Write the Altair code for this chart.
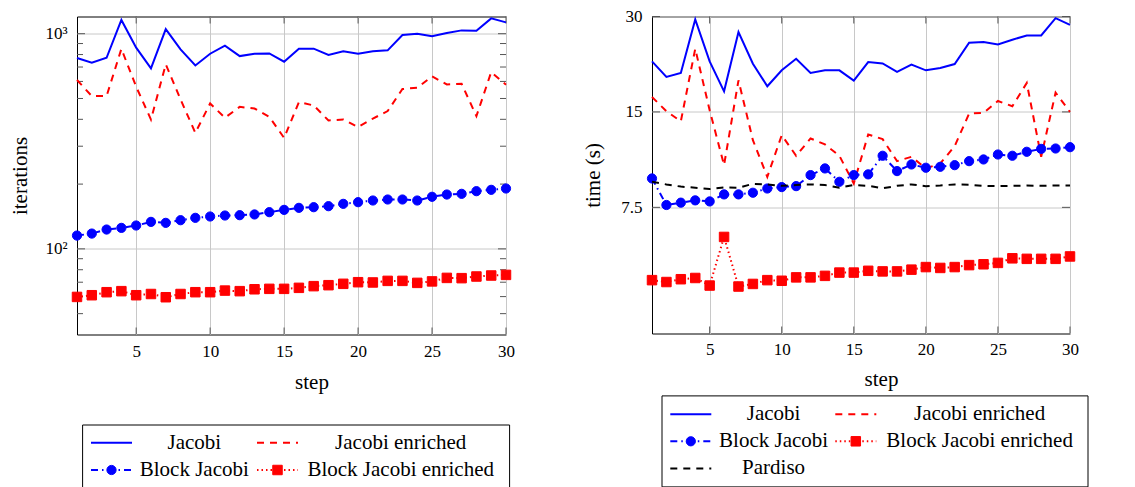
import altair as alt
import pandas as pd

steps = list(range(1, 31))

iter_jacobi = [771, 733, 773, 1158, 861, 690, 1051, 846, 712, 807, 880, 787, 807, 810, 741,
               852, 852, 796, 828, 807, 828, 837, 986, 1000, 972, 1007, 1036, 1033, 1178, 1129]
iter_jacobi_enr = [609, 513, 513, 850, 567, 399, 720, 495, 346, 474, 407, 457, 449, 411, 328,
                   481, 464, 395, 399, 368, 403, 437, 553, 561, 633, 581, 585, 414, 663, 579]
iter_block = [115.3, 117.8, 123, 125.2, 128.4, 133.5, 132.1, 135.9, 139.4, 141.4, 142.9, 143.4,
              144.5, 148.1, 151.8, 155.1, 156.2, 157.9, 161.9, 164.8, 167.8, 169.6, 169.6, 167.8,
              174.6, 178.9, 180.2, 185.4, 188.1, 190.8]
iter_block_enr = [59.8, 60.9, 62.9, 63.6, 60.9, 61.7, 59.6, 61.7, 62.9, 62.9, 64.0, 63.6, 64.9,
                  65.2, 65.2, 65.9, 67.1, 67.8, 68.8, 70.0, 69.8, 71.0, 71.0, 69.5, 70.6, 73.3,
                  73.1, 74.4, 75.2, 75.7]

time_jacobi = [21.65, 19.34, 19.9, 29.36, 21.65, 17.42, 26.78, 21.29, 18.07, 20.29, 22.07, 19.9,
               20.29, 20.29, 18.83, 21.55, 21.34, 20.05, 21.14, 20.29, 20.63, 21.24, 24.79, 24.91,
               24.49, 25.34, 26.14, 26.14, 29.64, 28.24]
time_jacobi_enr = [16.72, 15.07, 14.01, 23.73, 15.18, 10.19, 18.87, 12.22, 9.36, 12.67, 10.91,
                   12.37, 11.85, 10.91, 8.92, 12.73, 12.31, 10.49, 10.83, 9.95, 10.32, 11.70,
                   14.82, 14.89, 16.24, 15.63, 18.51, 10.83, 17.26, 15.0]
time_block = [9.25, 7.63, 7.76, 7.89, 7.83, 8.24, 8.24, 8.34, 8.60, 8.69, 8.75, 9.48, 9.95, 9.03,
              9.48, 9.53, 10.91, 9.76, 10.24, 10.0, 10.07, 10.19, 10.49, 10.62, 11.01, 10.91,
              11.23, 11.47, 11.5, 11.61]
time_block_enr = [4.42, 4.36, 4.45, 4.49, 4.25, 6.05, 4.22, 4.30, 4.42, 4.40, 4.51, 4.51, 4.56,
                  4.67, 4.67, 4.73, 4.71, 4.71, 4.77, 4.86, 4.83, 4.86, 4.93, 4.96, 5.01, 5.18,
                  5.16, 5.16, 5.16, 5.25]
time_pardiso = [9.03, 8.86, 8.72, 8.65, 8.57, 8.67, 8.65, 8.90, 8.86, 8.77, 8.82, 8.86, 8.82,
                8.65, 8.82, 8.77, 8.61, 8.77, 8.86, 8.75, 8.79, 8.86, 8.84, 8.77, 8.75, 8.77,
                8.79, 8.77, 8.79, 8.79]

x_ticks = [5, 10, 15, 20, 25, 30]
iter_major = [100, 1000]
iter_minor = [50, 60, 70, 80, 90, 200, 300, 400, 500, 600, 700, 800, 900]
time_major = [7.5, 15, 30]

FONT = "Liberation Serif"
TICK_FS = 17
TEXT_FS = 21
STYLES = {
    "Jacobi": dict(color="#0000ff"),
    "Jacobi enriched": dict(color="#ff0000", strokeDash=[7, 6]),
    "Block Jacobi": dict(color="#0000ff", strokeDash=[7, 4, 1.5, 4], shape="circle"),
    "Block Jacobi enriched": dict(color="#ff0000", strokeDash=[1.5, 3], shape="square"),
    "Pardiso": dict(color="#000000", strokeDash=[7, 6]),
}
MARK_SIZE = {"circle": 85, "square": 90}


def long_df(series_dict):
    rows = []
    for name, vals in series_dict.items():
        for s, v in zip(steps, vals):
            rows.append({"series": name, "step": s, "value": v})
    return pd.DataFrame(rows)


def make_plot(series_dict, W, H, y_scale, y_values, label_expr, y_title, title_x, minor,
              x_label_pad, x_title_y):
    df = long_df(series_dict)
    xs = alt.Scale(domain=[1, 30], nice=False, zero=False)
    x_axis = alt.Axis(values=x_ticks, title="step", grid=True, gridColor="#c8c8c8",
                      gridWidth=1, ticks=False, tickSize=0, domain=False, labelFlush=False,
                      labelPadding=x_label_pad, labelFont=FONT, labelFontSize=TICK_FS,
                      labelColor="black", titleFont=FONT, titleFontSize=TEXT_FS,
                      titleFontWeight="normal", titleColor="black", titleX=W / 2 + 20,
                      titleY=x_title_y, titleBaseline="middle")
    y_axis = alt.Axis(values=y_values, title=y_title, grid=True, gridColor="#c8c8c8",
                      gridWidth=1, ticks=False, tickSize=0, domain=False, labelFlush=False,
                      labelPadding=10, labelFont=FONT, labelFontSize=TICK_FS, labelColor="black",
                      labelExpr=label_expr, titleFont=FONT, titleFontSize=TEXT_FS,
                      titleFontWeight="normal", titleColor="black", titleX=title_x,
                      titleY=H / 2, titleBaseline="middle", titleAngle=270)
    X = lambda f: alt.X(f, scale=xs, axis=x_axis)
    Y = lambda f: alt.Y(f, scale=y_scale, axis=y_axis)

    layers = []
    for name in series_dict:
        st = STYLES[name]
        sub = alt.Chart(df).transform_filter(alt.datum.series == name)
        kw = dict(color=st["color"], strokeWidth=2)
        if "strokeDash" in st:
            kw["strokeDash"] = st["strokeDash"]
        layers.append(sub.mark_line(**kw).encode(x=X("step:Q"), y=Y("value:Q")))
        if "shape" in st:
            layers.append(sub.mark_point(shape=st["shape"], filled=True,
                                         size=MARK_SIZE[st["shape"]], color=st["color"],
                                         stroke=st["color"], strokeWidth=1,
                                         opacity=1).encode(x=X("step:Q"), y=Y("value:Q")))

    tick_color = "#555555"
    tick_layers = []
    groups = [(pd.DataFrame({"v": y_values}), 8)]
    if minor:
        groups.append((pd.DataFrame({"v": minor}), 6))
    for d, ln in groups:
        base = alt.Chart(d).mark_rule(color=tick_color, strokeWidth=1)
        tick_layers.append(base.encode(y=Y("v:Q"), x=alt.value(0), x2=alt.value(ln)))
        tick_layers.append(base.encode(y=Y("v:Q"), x=alt.value(W - ln), x2=alt.value(W)))
    xbase = alt.Chart(pd.DataFrame({"v": x_ticks})).mark_rule(color=tick_color, strokeWidth=1)
    tick_layers.append(xbase.encode(x=X("v:Q"), y=alt.value(H - 7), y2=alt.value(H)))
    tick_layers.append(xbase.encode(x=X("v:Q"), y=alt.value(0), y2=alt.value(7)))

    return alt.layer(*(tick_layers + layers)).properties(
        width=W, height=H, view=alt.ViewBackground(stroke="black", strokeWidth=1))


def make_legend(names, cols, rows, W, H, box_x, c0, dc, t0, dt, r0, dr):
    df = pd.DataFrame({"series": names, "col": cols, "row": rows})
    xs = alt.Scale(domain=[0, 1], range=[c0, c0 + dc])
    xt = alt.Scale(domain=[0, 1], range=[t0, t0 + dt])
    ys = alt.Scale(domain=[0, 1], range=[r0, r0 + dr])
    frame = alt.Chart(pd.DataFrame({"a": [0]})).mark_rect(
        fill="transparent", stroke="black", strokeWidth=1).encode(
        x=alt.value(box_x), x2=alt.value(W), y=alt.value(0), y2=alt.value(H))
    sym_layers = []
    text_layers = []
    for name in names:
        st = STYLES[name]
        sub = alt.Chart(df).transform_filter(alt.datum.series == name)
        kw = dict(color=st["color"], strokeWidth=2, x2Offset=41)
        if "strokeDash" in st:
            kw["strokeDash"] = st["strokeDash"]
        sym_layers.append(sub.mark_rule(**kw).encode(
            x=alt.X("col:Q", scale=xs, axis=None), x2=alt.X2("col"),
            y=alt.Y("row:Q", scale=ys, axis=None)))
        if "shape" in st:
            sym_layers.append(sub.mark_point(shape=st["shape"], filled=True,
                                             size=MARK_SIZE[st["shape"]], color=st["color"],
                                             stroke=st["color"], strokeWidth=1, opacity=1,
                                             xOffset=20.5).encode(
                x=alt.X("col:Q", scale=xs, axis=None),
                y=alt.Y("row:Q", scale=ys, axis=None)))
        text_layers.append(sub.mark_text(font=FONT, fontSize=TEXT_FS, color="black",
                                         align="center", baseline="middle").encode(
            x=alt.X("col:Q", scale=xt, axis=None),
            y=alt.Y("row:Q", scale=ys, axis=None),
            text="series:N"))
    syms = alt.layer(frame, *sym_layers)
    texts = alt.layer(*text_layers)
    return alt.layer(syms, texts).resolve_scale(x="independent").properties(
        width=W, height=H)


left_series = {
    "Jacobi": iter_jacobi,
    "Jacobi enriched": iter_jacobi_enr,
    "Block Jacobi": iter_block,
    "Block Jacobi enriched": iter_block_enr,
}
right_series = {
    "Jacobi": time_jacobi,
    "Jacobi enriched": time_jacobi_enr,
    "Block Jacobi": time_block,
    "Block Jacobi enriched": time_block_enr,
    "Pardiso": time_pardiso,
}

left_plot = make_plot(left_series, 429, 318,
                      alt.Scale(type="log", domain=[40, 1202], nice=False),
                      iter_major, "datum.value == 1000 ? '10³' : '10²'", "iterations",
                      -57, iter_minor, 8.5, 47.5)
right_plot = make_plot(right_series, 418, 317,
                       alt.Scale(type="log", base=2, domain=[3, 30], nice=False),
                       time_major, "format(datum.value, '~g')", "time (s)", -58.4, None,
                       7.5, 46)

left_legend = make_legend(list(left_series), [0, 1, 0, 1], [0, 0, 1, 1],
                          432.6, 63, 5.6, 14.0, 166, 117.3, 206.4, 17.7, 27.3)
right_legend = make_legend(list(right_series), [0, 1, 0, 1, 0], [0, 0, 1, 1, 2],
                           436, 91, 10, 18.3, 165, 121.6, 206.0, 18.3, 27.1)

left_col = alt.vconcat(left_plot, left_legend, spacing=31.5)
right_col = alt.vconcat(right_plot, right_legend, spacing=4.4)

chart = alt.hconcat(left_col, right_col, spacing=67).configure_view(
    stroke="transparent").properties(
    padding={"left": 0, "top": -1.5, "right": 0, "bottom": 3}, background="white")

chart.save("out.html", embed_options={"renderer": "svg", "actions": False})
